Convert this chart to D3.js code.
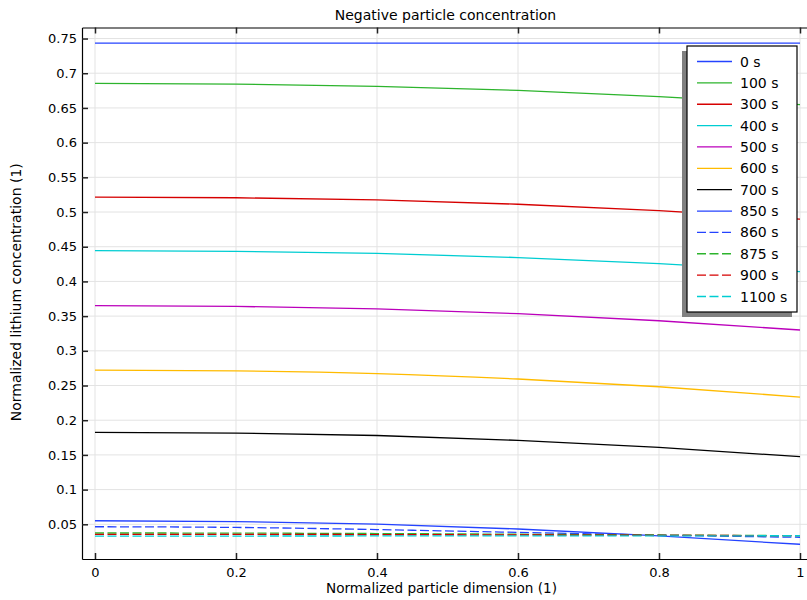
<!DOCTYPE html>
<html>
<head>
<meta charset="utf-8">
<script src="https://cdn.jsdelivr.net/npm/d3@7"></script>
<style>
  html, body { margin: 0; padding: 0; background: #fff; }
  svg { display: block; font-family: "DejaVu Sans", sans-serif; }
</style>
</head>
<body>
<svg id="chart" width="807" height="600"></svg>
<script>
// ---- data ----
const xValues = [0, 0.2, 0.4, 0.6, 0.8, 1.0];
const seriesNames = ["0 s", "100 s", "300 s", "400 s", "500 s", "600 s", "700 s", "850 s", "860 s", "875 s", "900 s", "1100 s"];
const s0    = [0.7435, 0.7435, 0.7435, 0.7435, 0.7435, 0.7435];
const s100  = [0.6854, 0.6843, 0.6812, 0.6752, 0.6663, 0.6549];
const s300  = [0.5216, 0.5206, 0.5175, 0.5112, 0.5019, 0.4897];
const s400  = [0.4443, 0.4434, 0.4404, 0.4344, 0.4255, 0.4140];
const s500  = [0.3650, 0.3640, 0.3605, 0.3535, 0.3433, 0.3300];
const s600  = [0.2723, 0.2711, 0.2672, 0.2594, 0.2482, 0.2334];
const s700  = [0.1826, 0.1815, 0.1780, 0.1710, 0.1608, 0.1474];
const s850  = [0.0551, 0.0540, 0.0502, 0.0432, 0.0332, 0.0212];
const s860  = [0.0465, 0.0455, 0.0424, 0.0383, 0.0344, 0.0313];
const s875  = [0.0375, 0.0373, 0.0367, 0.0357, 0.0346, 0.0336];
const s900  = [0.0356, 0.0355, 0.0352, 0.0347, 0.0341, 0.0336];
const s1100 = [0.0331, 0.0331, 0.0332, 0.0333, 0.0334, 0.0335];
const seriesValues = [s0, s100, s300, s400, s500, s600, s700, s850, s860, s875, s900, s1100];
const xTicks = [0, 0.2, 0.4, 0.6, 0.8, 1];
const yTicks = [0.05, 0.1, 0.15, 0.2, 0.25, 0.3, 0.35, 0.4, 0.45, 0.5, 0.55, 0.6, 0.65, 0.7, 0.75];
const titleText = "Negative particle concentration";
const xLabelText = "Normalized particle dimension (1)";
const yLabelText = "Normalized lithium concentration (1)";

// ---- styles ----
const colors = ["#2443ff", "#2db42d", "#d60000", "#00cdd2", "#bb00bb", "#ffbb00", "#000000",
                "#2443ff", "#2443ff", "#2db42d", "#d60000", "#00cdd2"];
const dashed = [false, false, false, false, false, false, false, false, true, true, true, true];

const svg = d3.select("#chart");
const L = 82, T = 27.5, B = 559;
const x = d3.scaleLinear().domain([-13 / 705, 1 + 13 / 705]).range([L, L + 731]);
const y = d3.scaleLinear().domain([0, 0.7659]).range([B, T]);
const R = x.range()[1];

// clip
svg.append("defs").append("clipPath").attr("id", "clip")
  .append("rect").attr("x", L).attr("y", T).attr("width", R - L).attr("height", B - T);

// grid
const grid = svg.append("g");
grid.selectAll("line.gx").data(xTicks).join("line")
  .attr("x1", d => x(d)).attr("x2", d => x(d)).attr("y1", T).attr("y2", B)
  .attr("stroke", "#e3e3e3").attr("stroke-width", 1);
grid.selectAll("line.gy").data(yTicks).join("line")
  .attr("x1", L).attr("x2", R).attr("y1", d => y(d)).attr("y2", d => y(d))
  .attr("stroke", "#e3e3e3").attr("stroke-width", 1);

// lines
const line = d3.line().x((d, i) => x(xValues[i])).y(d => y(d)).curve(d3.curveMonotoneX);
const plot = svg.append("g").attr("clip-path", "url(#clip)");
seriesValues.forEach((vals, k) => {
  plot.append("path").datum(vals)
    .attr("d", line)
    .attr("fill", "none")
    .attr("stroke", colors[k])
    .attr("stroke-width", 1.3)
    .attr("stroke-dasharray", dashed[k] ? "9,3.5" : null);
});

// axes (ticks inside)
const tickLen = 6;
const axB = svg.append("g").attr("transform", `translate(0,${B})`)
  .call(d3.axisBottom(x).tickValues(xTicks).tickSizeInner(-tickLen).tickSizeOuter(0).tickPadding(12).tickFormat(d3.format("~g")));
const axT = svg.append("g").attr("transform", `translate(0,${T})`)
  .call(d3.axisTop(x).tickValues(xTicks).tickSizeInner(-tickLen).tickSizeOuter(0).tickFormat(""));
const axL = svg.append("g").attr("transform", `translate(${L},0)`)
  .call(d3.axisLeft(y).tickValues(yTicks).tickSizeInner(-tickLen).tickSizeOuter(0).tickPadding(5).tickFormat(d3.format("~g")));
[axB, axT, axL].forEach(a => {
  a.selectAll(".domain").attr("stroke", "#000").attr("stroke-width", 1.2);
  a.selectAll(".tick line").attr("stroke", "#222").attr("stroke-width", 1.5);
  a.selectAll(".tick text").attr("fill", "#000").attr("font-size", 13).attr("font-family", "DejaVu Sans, sans-serif");
});
axB.selectAll(".tick text").attr("dy", "0.71em").attr("y", 9);
axL.selectAll(".tick text").attr("x", -5);

// labels
svg.append("text").attr("x", 445.5).attr("y", 20).attr("text-anchor", "middle")
  .attr("font-size", 14).text(titleText);
svg.append("text").attr("x", 441.5).attr("y", 593).attr("text-anchor", "middle")
  .attr("font-size", 13.6).text(xLabelText);
svg.append("text").attr("transform", `translate(21,${(T + B) / 2 - 1}) rotate(-90)`)
  .attr("text-anchor", "middle").attr("font-size", 14).text(yLabelText);

// legend
const lg = svg.append("g");
const bx = 687, by = 46, bw = 110, bh = 266;
lg.append("rect").attr("x", bx - 5).attr("y", by + 5).attr("width", bw).attr("height", bh).attr("fill", "#808080");
lg.append("rect").attr("x", bx).attr("y", by).attr("width", bw).attr("height", bh)
  .attr("fill", "#fff").attr("stroke", "#000").attr("stroke-width", 1.2);
const rowH = d3.scaleLinear().domain([0, seriesNames.length - 1]).range([61.5, 296.5]);
seriesNames.forEach((name, k) => {
  const yy = rowH(k);
  lg.append("line").attr("x1", 697).attr("x2", 732).attr("y1", yy).attr("y2", yy)
    .attr("stroke", colors[k]).attr("stroke-width", 1.3)
    .attr("stroke-dasharray", dashed[k] ? "9,3.5" : null);
  lg.append("text").attr("x", 740).attr("y", yy).attr("dy", "0.36em")
    .attr("font-size", 14).text(name);
});
</script>
</body>
</html>
